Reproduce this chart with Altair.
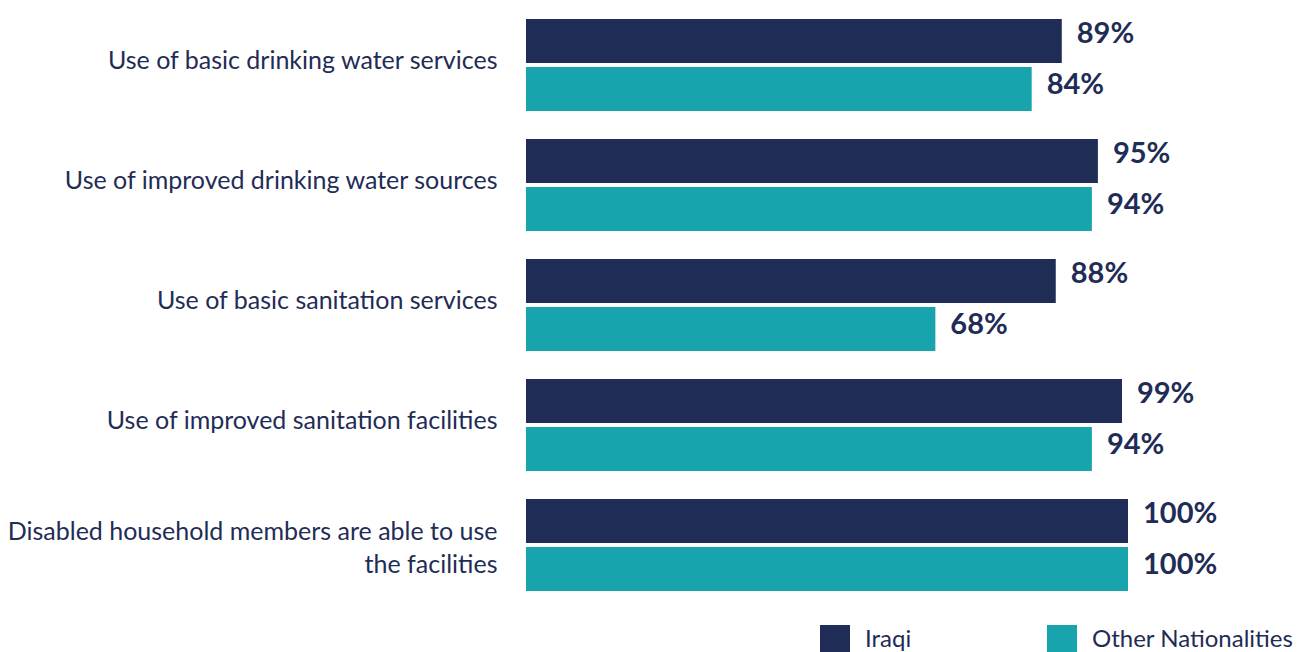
import altair as alt
import pandas as pd

categories = [
    "Use of basic drinking water services",
    "Use of improved drinking water sources",
    "Use of basic sanitation services",
    "Use of improved sanitation facilities",
    "Disabled household members are able to use the facilities",
]
series = ["Iraqi", "Other Nationalities"]
iraqi = [89, 95, 88, 99, 100]
other = [84, 94, 68, 94, 100]
colors = ["#1F2D56", "#17A4AC"]
NAVY = "#1F2D56"

rows = []
for c, a, b in zip(categories, iraqi, other):
    rows.append({"category": c, "group": series[0], "value": a, "label": f"{a}%"})
    rows.append({"category": c, "group": series[1], "value": b, "label": f"{b}%"})
df = pd.DataFrame(rows)

long_label = categories[4]
label_expr = (
    f"datum.value == '{long_label}' ? "
    "['Disabled household members are able to use', 'the facilities'] : datum.value"
)

y_enc = alt.Y(
    "category:N",
    sort=categories,
    scale=alt.Scale(paddingInner=28 / 120, paddingOuter=11 / 120),
    axis=alt.Axis(
        title=None,
        domain=False,
        ticks=False,
        labelFont="Lato",
        labelFontSize=25,
        labelColor=NAVY,
        labelPadding=29,
        labelLimit=0,
        labelLineHeight=33,
        labelExpr=label_expr,
        labelOffset={"condition": {"test": f"datum.value == '{long_label}'", "value": -13}, "value": -4},
    ),
)
yoff_enc = alt.YOffset(
    "group:N",
    sort=series,
    scale=alt.Scale(paddingInner=4 / 48, paddingOuter=0),
)
x_enc = alt.X("value:Q", scale=alt.Scale(domain=[0, 100]), axis=None)

base = alt.Chart(df)

bars = base.mark_bar().encode(
    x=x_enc,
    y=y_enc,
    yOffset=yoff_enc,
    color=alt.Color(
        "group:N",
        sort=series,
        scale=alt.Scale(domain=series, range=colors),
        legend=alt.Legend(
            title=None,
            orient="none",
            direction="horizontal",
            legendX=294,
            legendY=617,
            symbolType="square",
            symbolSize=900,
            symbolStrokeWidth=0,
            symbolOpacity=1,
            labelFont="Lato",
            labelFontSize=24,
            labelColor=NAVY,
            labelOffset=15,
            columnPadding=135,
            labelLimit=0,
        ),
    ),
)


def value_text(group, dy):
    return (
        base.transform_filter(alt.datum.group == group)
        .mark_text(
            align="left",
            baseline="middle",
            dx=15,
            dy=dy,
            font="Lato",
            fontWeight="bold",
            fontSize=29,
            color=NAVY,
        )
        .encode(
            x=x_enc,
            y=alt.Y("category:N", sort=categories),
            yOffset=alt.YOffset("group:N", sort=series),
            text="label:N",
        )
    )


texts_iraqi = value_text(series[0], -7)
texts_other = value_text(series[1], -4)

chart = (
    alt.layer(bars, texts_iraqi, texts_other)
    .properties(
        width=602,
        height=594,
        background="white",
        autosize=alt.AutoSizeParams(type="none"),
        padding={"left": 518, "top": 0, "right": 170, "bottom": 50},
    )
    .configure_view(strokeWidth=0, stroke=None)
)

chart.save("out.html", embed_options={"renderer": "svg", "actions": False})
